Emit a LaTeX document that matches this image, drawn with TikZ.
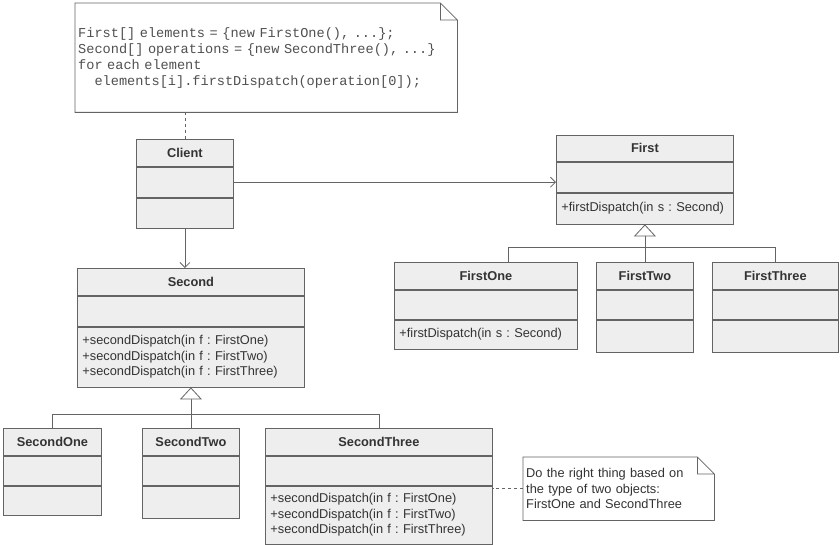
\documentclass[tikz,border=0pt]{standalone}
\usepackage{fontspec}
\setmainfont{Liberation Sans}
\setmonofont{Liberation Mono}
\usetikzlibrary{positioning}
\usetikzlibrary{arrows.meta}
\definecolor{umlline}{RGB}{100,100,100}
\definecolor{umlfill}{RGB}{238,238,238}
\definecolor{umltext}{RGB}{51,51,51}
\definecolor{codetext}{RGB}{80,80,80}
\newcommand{\umlsize}{\fontsize{12.8}{15.5}\selectfont\frenchspacing}
\newcommand{\codesize}{\ttfamily\fontsize{13.6}{16}\selectfont\frenchspacing}
\tikzstyle{classpart} = [draw=umlline, fill=umlfill, line width=0.8pt, inner xsep=5pt, inner ysep=0pt, text=umltext, font=\umlsize]
\tikzstyle{classname} = [classpart, font=\umlsize\bfseries, anchor=north west]
\tikzstyle{classops} = [classpart, align=left]
\tikzstyle{note} = [inner xsep=3pt, inner ysep=0pt, anchor=north west, align=left, text=umltext, font=\umlsize]
\tikzstyle{notebox} = [draw=umlline, line width=0.8pt]
\tikzstyle{link} = [draw=umlline, line width=0.8pt]
\tikzstyle{assoc} = [link, -{Straight Barb[length=5pt,width=10pt]}]
\tikzstyle{inherit} = [link, -{Triangle[length=12pt,width=22pt,fill=white]}]
\tikzstyle{anchorline} = [link, dash pattern=on 3pt off 3pt]

\begin{document}
\begin{tikzpicture}[x=1pt, y=-1pt]
        \fill[white] (0,0) rectangle (840,545);
        \useasboundingbox (0,0) rectangle (840,545);

        % notes
        \node[note, text width=376pt, minimum height=109pt, font=\codesize, text=codetext] (code) at (75,3)
            {First[] elements = \{new FirstOne(), ...\};\\
             Second[] operations = \{new SecondThree(), ...\}\\
             for each element\\
             \phantom{xx}elements[i].firstDispatch(operation[0]);};
        \node[note, text width=185pt, minimum height=63pt] (remark) at (523,457)
            {Do the right thing based on\\ the type of two objects:\\ FirstOne and SecondThree};
        \foreach \n in {code, remark}
            \draw[notebox] (\n.south west) -- (\n.north west) -- ([xshift=-17pt]\n.north east)
                -- ([yshift=-17pt]\n.north east) -- (\n.south east) -- cycle
                ([xshift=-17pt]\n.north east) |- ([yshift=-17pt]\n.north east);

        % Client
        \node[classname, minimum width=97pt, minimum height=27pt] (client) at (136,139) {Client};
        \node[classpart, minimum width=97pt, minimum height=30pt, below=0pt of client] (client-attr) {};
        \node[classpart, minimum width=97pt, minimum height=30pt, below=0pt of client-attr] (client-ops) {};

        % First and its subclasses
        \node[classname, minimum width=177pt, minimum height=26pt] (first) at (556,135) {First};
        \node[classpart, minimum width=177pt, minimum height=30pt, below=0pt of first] (first-attr) {};
        \node[classops, text width=167pt, minimum height=31pt, below=0pt of first-attr] (first-ops) {+firstDispatch(in s : Second)};

        \node[classname, minimum width=183pt, minimum height=27pt] (firstone) at (394,262) {FirstOne};
        \node[classpart, minimum width=183pt, minimum height=29pt, below=0pt of firstone] (firstone-attr) {};
        \node[classops, text width=173pt, minimum height=29pt, below=0pt of firstone-attr] (firstone-ops) {+firstDispatch(in s : Second)};

        \node[classname, minimum width=97pt, minimum height=27pt] (firsttwo) at (596,262) {FirstTwo};
        \node[classpart, minimum width=97pt, minimum height=29pt, below=0pt of firsttwo] (firsttwo-attr) {};
        \node[classpart, minimum width=97pt, minimum height=32pt, below=0pt of firsttwo-attr] (firsttwo-ops) {};

        \node[classname, minimum width=126pt, minimum height=27pt] (firstthree) at (712,262) {FirstThree};
        \node[classpart, minimum width=126pt, minimum height=29pt, below=0pt of firstthree] (firstthree-attr) {};
        \node[classpart, minimum width=126pt, minimum height=32pt, below=0pt of firstthree-attr] (firstthree-ops) {};

        % Second and its subclasses
        \node[classname, minimum width=227pt, minimum height=27pt] (second) at (77,268) {Second};
        \node[classpart, minimum width=227pt, minimum height=30pt, below=0pt of second] (second-attr) {};
        \node[classops, text width=217pt, minimum height=60pt, below=0pt of second-attr] (second-ops)
            {+secondDispatch(in f : FirstOne)\\ +secondDispatch(in f : FirstTwo)\\ +secondDispatch(in f : FirstThree)};

        \node[classname, minimum width=98pt, minimum height=27pt] (secondone) at (3,428) {SecondOne};
        \node[classpart, minimum width=98pt, minimum height=29pt, below=0pt of secondone] (secondone-attr) {};
        \node[classpart, minimum width=98pt, minimum height=29pt, below=0pt of secondone-attr] (secondone-ops) {};

        \node[classname, minimum width=97pt, minimum height=27pt] (secondtwo) at (142,428) {SecondTwo};
        \node[classpart, minimum width=97pt, minimum height=29pt, below=0pt of secondtwo] (secondtwo-attr) {};
        \node[classpart, minimum width=97pt, minimum height=32pt, below=0pt of secondtwo-attr] (secondtwo-ops) {};

        \node[classname, minimum width=227pt, minimum height=27pt] (secondthree) at (265,428) {SecondThree};
        \node[classpart, minimum width=227pt, minimum height=29pt, below=0pt of secondthree] (secondthree-attr) {};
        \node[classops, text width=217pt, minimum height=58pt, below=0pt of secondthree-attr] (secondthree-ops)
            {+secondDispatch(in f : FirstOne)\\ +secondDispatch(in f : FirstTwo)\\ +secondDispatch(in f : FirstThree)};

        % connectors
        \draw[anchorline] (client.north) -- (client.north |- code.south);
        \draw[anchorline] (remark.west) -- (remark.west -| secondthree-ops.east);
        \draw[assoc] (client-attr.east) -- (client-attr.east -| first.west);
        \draw[assoc] (client-ops.south) -- (client-ops.south |- second.north);

        \path (first-ops.south) ++(0,23) coordinate (fj);
        \draw[inherit] (firsttwo.north) -- (first-ops.south);
        \draw[link] ([xshift=22pt]firstone.north) |- (fj) -| (firstthree.north);

        \path (second-ops.south) ++(0,27) coordinate (sj);
        \draw[inherit] (secondtwo.north) -- (second-ops.south);
        \draw[link] (secondone.north) |- (sj) -| (secondthree.north);
\end{tikzpicture}
\end{document}
